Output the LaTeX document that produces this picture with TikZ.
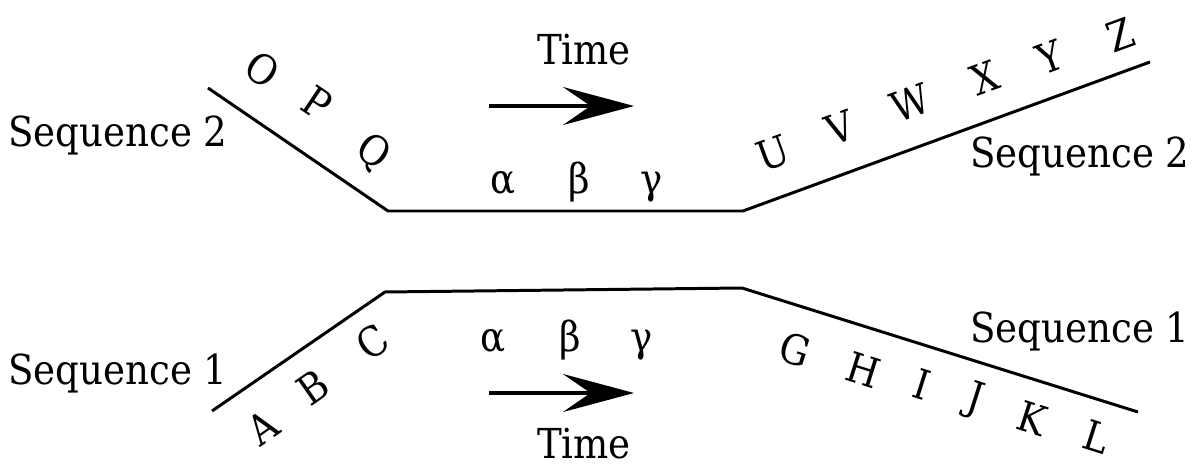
\documentclass[tikz,border=0pt]{standalone}
\usepackage{fontspec}
\setmainfont{DejaVu Serif Condensed}
\usepackage{tikz}
\usetikzlibrary{arrows.meta, positioning}
\tikzset{
  seqline/.style={line width=1.7pt, line join=miter},
  timearrow/.style={-{Stealth[length=1.42cm, width=0.76cm, inset=0.55cm]}, line width=2.2pt},
  label/.style={inner sep=0pt, font=\fontsize{23.5}{28}\selectfont},
  seqlabel/.style={label, anchor=base west},
  letter/.style={label, anchor=center}
}
\begin{document}
\begin{tikzpicture}[x=0.02cm, y=-0.02cm]
  \useasboundingbox (0,0) rectangle (1200,469);
  % Sequence 2 (top)
  \coordinate (s2a) at (208,88);
  \coordinate (s2b) at (388,211);
  \coordinate (s2c) at (743,211);
  \coordinate (s2d) at (1150,62);
  \draw[seqline] (s2a) -- (s2b) -- (s2c) -- (s2d);
  % Sequence 1 (bottom)
  \coordinate (s1a) at (212,411);
  \coordinate (s1b) at (385,292);
  \coordinate (s1c) at (742,288);
  \coordinate (s1d) at (1138,412);
  \draw[seqline] (s1a) -- (s1b) -- (s1c) -- (s1d);
  % Sequence names
  \node[seqlabel] (seq2l) at (8,147) {Sequence 2};
  \node[seqlabel] (seq1l) at (8,385) {Sequence 1};
  \node[seqlabel] (seq2r) at (970,168) {Sequence 2};
  \node[seqlabel] (seq1r) at (970,343) {Sequence 1};
  % Letters along the lines
  \foreach \ch/\px/\py in {O/263/70, P/317/103, Q/373/153}
    \node[letter, rotate=-34] (l\ch) at (\px,\py) {\ch};
  \foreach \ch/\px/\py in {A/263/427, B/313/387, C/373/342}
    \node[letter, rotate=35] (l\ch) at (\px,\py) {\ch};
  \foreach \ch/\px/\py in {U/773/153, V/840/128, W/910/103, X/985/78, Y/1050/57, Z/1120/35}
    \node[letter, rotate=20] (l\ch) at (\px,\py) {\ch};
  \foreach \ch/\px/\py in {G/795/350, H/863/370, I/922/384, J/975/400, K/1032/418, L/1097/437}
    \node[letter, rotate=-17.6] (l\ch) at (\px,\py) {\ch};
  % Greek letters
  \node[label, anchor=base] (ga2) at (503,194) {α};
  \node[label, anchor=base] (gb2) at (579,194) {β};
  \node[label, anchor=base] (gc2) at (652,194) {γ};
  \node[label, anchor=base] (ga1) at (493,352) {α};
  \node[label, anchor=base] (gb1) at (570,352) {β};
  \node[label, anchor=base] (gc1) at (642,352) {γ};
  % Time arrows
  \node[label, anchor=base] (time2) at (584,65) {Time};
  \coordinate (t2a) at (489,106);
  \coordinate (t2b) at (634,106);
  \draw[timearrow] (t2a) -- (t2b);
  \coordinate (t1a) at (489,393);
  \coordinate (t1b) at (634,393);
  \draw[timearrow] (t1a) -- (t1b);
  \node[label, anchor=base] (time1) at (584,459) {Time};
\end{tikzpicture}
\end{document}
